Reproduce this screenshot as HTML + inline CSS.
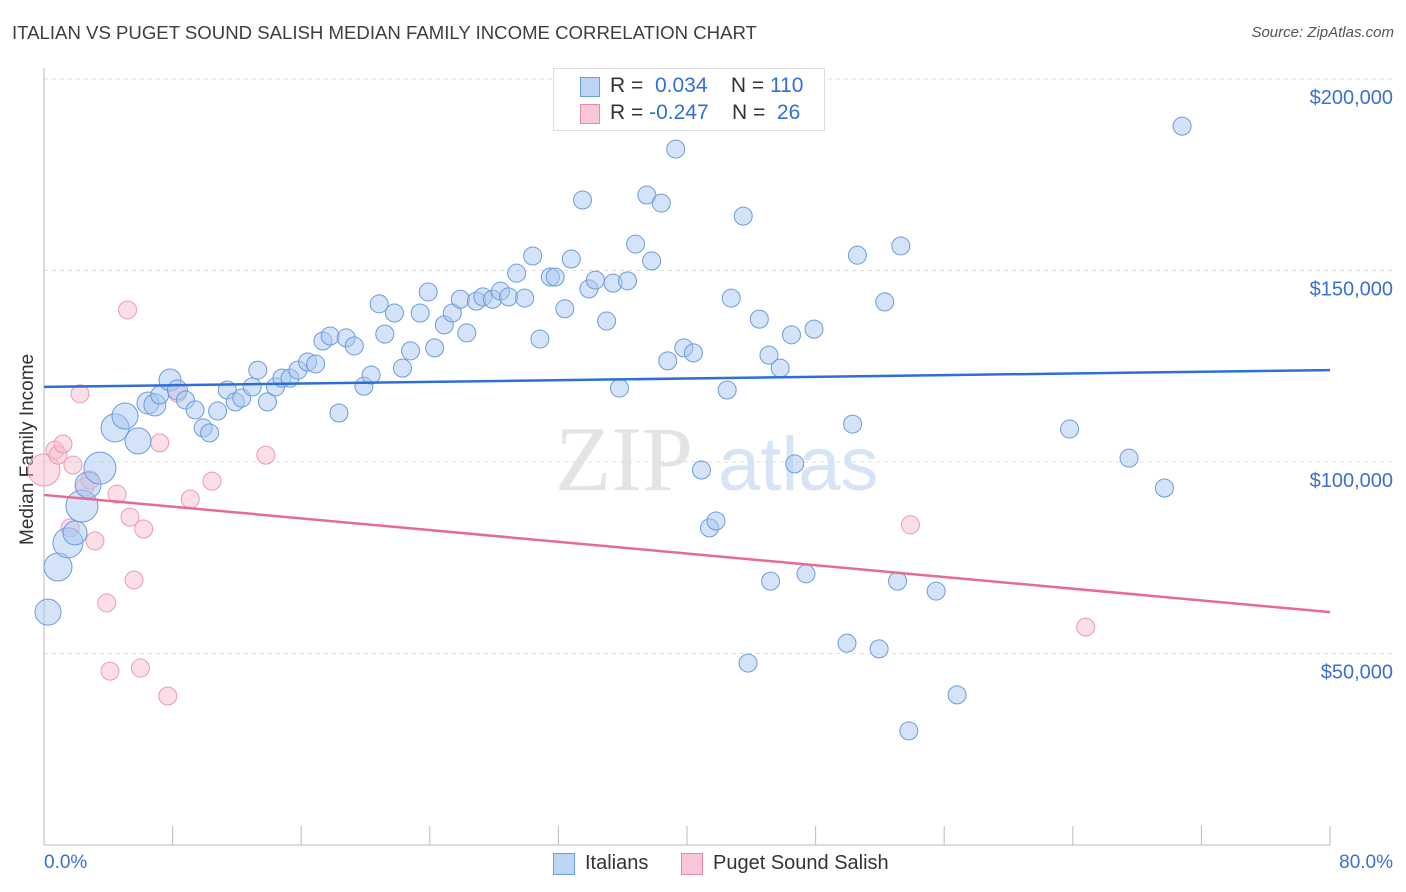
<!DOCTYPE html>
<html><head><meta charset="utf-8">
<style>
body{margin:0;background:#fff;font-family:"Liberation Sans",sans-serif;}
#wrap{position:relative;width:1406px;height:892px;overflow:hidden;}
.t{position:absolute;white-space:nowrap;}
</style></head>
<body>
<div id="wrap">
<div class="t" style="left:12px;top:22px;font-size:18.6px;color:#3e3e3e;">ITALIAN VS PUGET SOUND SALISH MEDIAN FAMILY INCOME CORRELATION CHART</div>
<div class="t" style="right:12px;top:24px;font-size:15px;color:#555;font-style:italic;">Source: ZipAtlas.com</div>
<div class="t" style="left:-62px;top:444px;font-size:19px;color:#333;transform:rotate(-90deg);width:180px;text-align:center;">Median Family Income</div>
<svg id="plot" width="1406" height="892" style="position:absolute;left:0;top:0"></svg>
<div style="position:absolute;left:553px;top:68px;width:270px;height:61px;border:1px solid #ddd;background:#fff;font-size:21px;">
 <div style="position:absolute;left:26px;top:8px;width:18px;height:18px;background:#bcd5f5;border:1px solid #6c9de0;"></div>
 <div class="t" style="left:56px;top:5px;color:#333;">R = <span style="color:#2f6fd6">&nbsp;0.034</span>&nbsp;&nbsp;&nbsp; N = <span style="color:#2f6fd6">110</span></div>
 <div style="position:absolute;left:26px;top:35px;width:18px;height:18px;background:#f8c7d5;border:1px solid #e88aa6;"></div>
 <div class="t" style="left:56px;top:32px;color:#333;">R = <span style="color:#2f6fd6">-0.247</span>&nbsp;&nbsp;&nbsp; N = <span style="color:#2f6fd6">&nbsp;26</span></div>
</div>
<div class="t" style="left:44px;top:852px;font-size:19px;color:#3b6fd4;">0.0%</div>
<div class="t" style="right:13px;top:852px;font-size:19px;color:#3b6fd4;">80.0%</div>
<div style="position:absolute;left:553px;top:853px;width:20px;height:20px;background:#bcd5f5;border:1px solid #6c9de0;"></div>
<div class="t" style="left:585px;top:852px;font-size:20px;color:#333;">Italians</div>
<div style="position:absolute;left:681px;top:853px;width:20px;height:20px;background:#f8c7d5;border:1px solid #e88aa6;"></div>
<div class="t" style="left:713px;top:852px;font-size:20px;color:#333;">Puget Sound Salish</div>
</div>
<script>
const yTicks=[50000,100000,150000,200000];
const yTickLabels=["$50,000","$100,000","$150,000","$200,000"];
const blueX=[0.25,0.87,1.49,1.93,2.36,2.74,3.48,4.42,5.04,5.85,6.47,6.9,7.2,7.84,8.3,8.8,9.4,9.9,10.3,10.8,11.4,11.9,12.3,12.95,13.3,13.9,14.4,14.8,15.3,15.8,16.4,16.9,17.35,17.8,18.35,18.8,19.3,19.9,20.35,20.85,21.2,21.8,22.3,22.8,23.4,23.9,24.3,24.9,25.4,25.9,26.3,26.9,27.3,27.9,28.4,28.9,29.4,29.9,30.4,30.85,31.5,31.8,32.4,32.8,33.5,33.9,34.3,35.0,35.4,35.8,36.3,36.8,37.5,37.8,38.4,38.8,39.3,39.8,40.4,40.9,41.4,41.8,42.5,42.75,43.5,43.8,44.5,45.1,45.2,45.8,46.5,46.7,47.4,47.9,49.95,50.3,50.6,51.95,52.3,53.1,53.3,53.8,55.5,56.8,63.8,67.5,69.7,70.8];
const blueY=[60.8,72.6,78.9,81.5,88.5,94.0,98.4,108.9,112.0,105.5,115.4,114.9,117.5,121.4,118.8,116.2,113.6,108.9,107.6,113.3,118.8,115.7,116.7,119.6,124.0,115.7,119.6,121.9,121.9,124.0,126.1,125.6,131.6,132.9,112.8,132.4,130.3,119.8,122.7,141.3,133.4,138.9,124.5,129.0,138.9,144.4,129.8,135.8,138.9,142.5,133.7,142.0,143.1,142.5,144.6,143.1,149.3,142.8,153.8,132.1,148.3,148.3,140.0,153.0,168.4,145.2,147.5,136.8,146.7,119.3,147.3,156.9,169.7,152.5,167.6,126.4,181.7,129.8,128.5,97.9,82.8,84.6,118.8,142.8,164.2,47.5,137.3,127.9,68.9,124.5,133.2,99.5,70.8,134.7,52.7,109.9,154.0,51.2,141.8,68.9,156.4,29.8,66.3,39.2,108.6,101.0,93.2,187.7];
const blueR=[13,14,15,12,16,13,16,14,13,13,11,11,9,11,10,9,9,9,9,9,9,9,9,9,9,9,9,9,9,9,9,9,9,9,9,9,9,9,9,9,9,9,9,9,9,9,9,9,9,9,9,9,9,9,9,9,9,9,9,9,9,9,9,9,9,9,9,9,9,9,9,9,9,9,9,9,9,9,9,9,9,9,9,9,9,9,9,9,9,9,9,9,9,9,9,9,9,9,9,9,9,9,9,9,9,9,9,9];
const pinkX=[0,0.68,0.87,1.18,1.8,2.24,1.62,2.55,2.86,3.17,3.9,4.1,4.54,5.35,5.2,5.6,6.0,6.2,7.2,7.7,8.3,9.1,10.45,13.8,53.9,64.8];
const pinkY=[97.9,103.1,101.8,104.7,99.2,117.8,82.8,93.5,95.3,79.4,63.2,45.4,91.6,85.6,139.7,69.2,46.2,82.5,105.0,38.9,118.0,90.3,95.0,101.8,83.6,56.9];
const pinkR=[16,9,9,9,9,9,9,9,9,9,9,9,9,9,9,9,9,9,9,9,9,9,9,9,9,9];
const blueTrend=[119.6,124.0];
const pinkTrend=[91.4,60.8];
const trendX=[0,80];

const NS="http://www.w3.org/2000/svg",svg=document.getElementById('plot');
const X0=44,X1=1330,Y0=845,PXK=191.5/50;
const sx=v=>X0+(v/80)*(X1-X0);
const sy=k=>Y0-k*PXK;
function mk(t,a){const e=document.createElementNS(NS,t);for(const k in a)e.setAttribute(k,a[k]);svg.appendChild(e);return e;}
let w=mk('text',{x:555,y:490,'font-size':92,fill:'#e4e4e4','font-family':'Liberation Serif, serif'});w.textContent='ZIP';


w=mk('text',{x:718,y:490,'font-size':76,fill:'#d6e4f4','font-family':'Liberation Sans, sans-serif'});w.textContent='atlas';


yTicks.forEach((v,i)=>{
 const y=sy(v/1000);
 const l=mk('line',{x1:X0,x2:1393,y1:y,y2:y,stroke:'#ddd','stroke-dasharray':'4,4'});
 
 
 const t=mk('text',{x:1393,y:y+25,'text-anchor':'end','font-size':20,fill:'#3b6fd4','font-family':'Liberation Sans, sans-serif'});
 t.textContent=yTickLabels[i];
 
 
});
let a=mk('line',{x1:X0,x2:X0,y1:68,y2:Y0,stroke:'#bbb'});


a=mk('line',{x1:X0,x2:X1,y1:Y0,y2:Y0,stroke:'#bbb'});


for(let i=0;i<=10;i++){const x=sx(i*8);const tk=mk('line',{x1:x,x2:x,y1:826,y2:Y0,stroke:'#bbb'});
 
 }
pinkX.forEach((v,i)=>{const c=mk('circle',{cx:sx(v),cy:sy(pinkY[i]),r:pinkR[i],fill:'rgba(248,190,206,0.5)',stroke:'#ec9ab3','stroke-width':1});
 
 });
blueX.forEach((v,i)=>{const c=mk('circle',{cx:sx(v),cy:sy(blueY[i]),r:blueR[i],fill:'rgba(170,200,240,0.5)',stroke:'#6a9be0','stroke-width':1});
 
 });
let tl=mk('line',{x1:sx(trendX[0]),x2:sx(trendX[1]),y1:sy(blueTrend[0]),y2:sy(blueTrend[1]),stroke:'#2d6fd6','stroke-width':2.5});


tl=mk('line',{x1:sx(trendX[0]),x2:sx(trendX[1]),y1:sy(pinkTrend[0]),y2:sy(pinkTrend[1]),stroke:'#e76a95','stroke-width':2.5});


</script>
</body></html>
